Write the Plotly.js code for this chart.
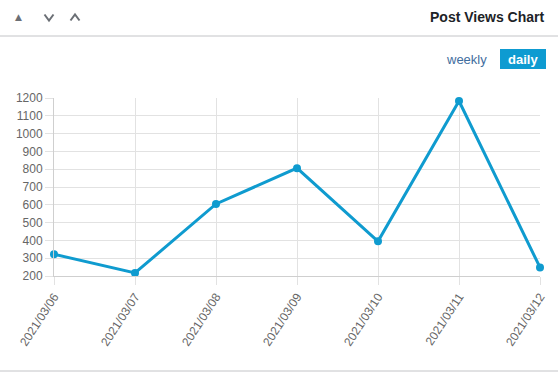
<!DOCTYPE html>
<html>
<head>
<meta charset="utf-8">
<script src="https://cdn.plot.ly/plotly-3.0.1.min.js"></script>
<style>
html,body{margin:0;padding:0;background:#fff;}
#chart{width:558px;height:373px;}
</style>
</head>
<body>
<div id="chart"></div>
<script>
const dates = ["2021/03/06","2021/03/07","2021/03/08","2021/03/09","2021/03/10","2021/03/11","2021/03/12"];
const views = [322, 217, 605, 806, 395, 1183, 248];
const yTicks = [200,300,400,500,600,700,800,900,1000,1100,1200];

const W = 558, H = 373;
const m = {l:54, r:18, t:98, b:97};
const pw = W - m.l - m.r, ph = H - m.t - m.b;
const px = x => (x - m.l) / pw;
const py = y => (H - m.b - y) / ph;

const lineColor = "#0f9bcf";

function chevron(cx, cy, up){
  const hw = 4.5, hh = 3;
  const y1 = up ? cy + hh : cy - hh, y2 = up ? cy - hh : cy + hh;
  return {type:"path", xref:"paper", yref:"paper",
    path:`M ${px(cx-hw)} ${py(y1)} L ${px(cx)} ${py(y2)} L ${px(cx+hw)} ${py(y1)}`,
    line:{color:"#6b6f75", width:2}};
}

const layout = {
  width:W, height:H,
  margin:m,
  paper_bgcolor:"#fff", plot_bgcolor:"#fff",
  showlegend:false,
  font:{family:"Liberation Sans, Arial, sans-serif", color:"#666", size:12},
  xaxis:{
    type:"category", range:[0,6], showgrid:true, gridcolor:"#e2e2e2", gridwidth:1,
    zeroline:false, showline:true, linecolor:"#cfcfcf", linewidth:1,
    ticks:"outside", ticklen:8, tickcolor:"#e2e2e2",
    tickangle:-57, tickfont:{size:12, color:"#666"}
  },
  yaxis:{
    range:[200,1200], tickvals:yTicks, showgrid:true, gridcolor:"#e2e2e2", gridwidth:1,
    zeroline:false, showline:true, linecolor:"#cfcfcf", linewidth:1,
    ticks:"outside", ticklen:8, tickcolor:"#e2e2e2",
    tickfont:{size:12, color:"#666"}
  },
  shapes:[
    {type:"line", xref:"paper", yref:"paper", x0:px(0), x1:px(558), y0:py(36), y1:py(36), line:{color:"#c3c4c7", width:1}},
    {type:"line", xref:"paper", yref:"paper", x0:px(0), x1:px(558), y0:py(371), y1:py(371), line:{color:"#c3c4c7", width:1}},
    {type:"rect", xref:"paper", yref:"paper", x0:px(500), x1:px(546), y0:py(69), y1:py(49), fillcolor:"#0e9bd1", line:{width:0}},
    chevron(49, 17.5, false),
    chevron(75, 17.5, true)
  ],
  annotations:[
    {xref:"paper", yref:"paper", x:px(546), y:py(17), xanchor:"right", yanchor:"middle", showarrow:false,
     text:"<b>Post Views Chart</b>", font:{size:14, color:"#1d2327", family:"Liberation Sans, Arial, sans-serif"}},
    {xref:"paper", yref:"paper", x:px(18), y:py(17), xanchor:"center", yanchor:"middle", showarrow:false,
     text:"▲", font:{size:9, color:"#6b6f75", family:"DejaVu Sans"}},
    {xref:"paper", yref:"paper", x:px(466.5), y:py(59.5), xanchor:"center", yanchor:"middle", showarrow:false,
     text:"weekly", font:{size:13, color:"#3f6d9e", family:"Liberation Sans, Arial, sans-serif"}},
    {xref:"paper", yref:"paper", x:px(523), y:py(59.5), xanchor:"center", yanchor:"middle", showarrow:false,
     text:"<b>daily</b>", font:{size:13, color:"#ffffff", family:"Liberation Sans, Arial, sans-serif"}}
  ]
};

Plotly.newPlot("chart", [{
  type:"scatter", mode:"lines+markers", x:dates, y:views,
  line:{color:lineColor, width:3}, marker:{color:lineColor, size:8},
  cliponaxis:false, hoverinfo:"none"
}], layout, {staticPlot:true, displayModeBar:false});
</script>
</body>
</html>
